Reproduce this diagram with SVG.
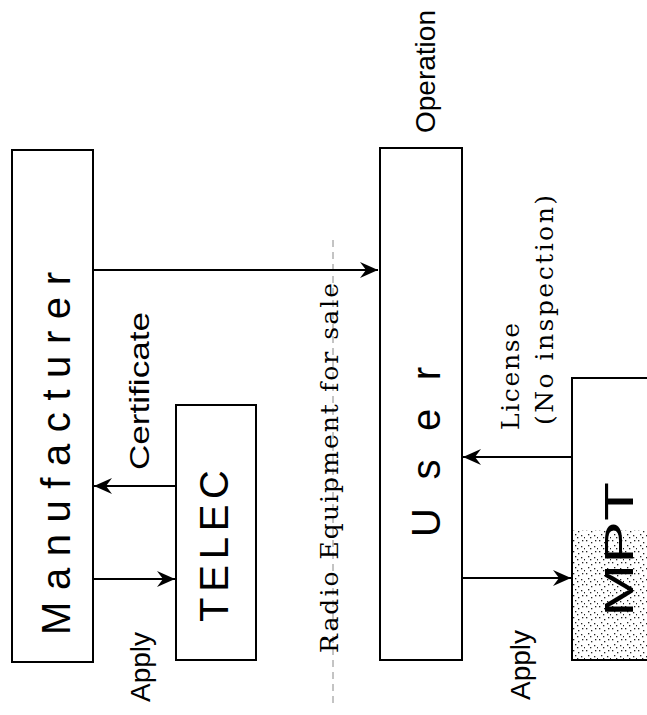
<svg xmlns="http://www.w3.org/2000/svg" width="647" height="715" viewBox="0 0 647 715">
<style>
.box{fill:#fff;stroke:#000;stroke-width:2}
.big{font-family:"Liberation Sans",Arial,sans-serif;font-size:40px;fill:#000}
.lbl{font-family:"Liberation Sans",Arial,sans-serif;font-size:28px;fill:#000}
.ser{font-family:"DejaVu Serif","Liberation Serif",serif;font-size:25px;fill:#000}
.ln{fill:none;stroke:#000;stroke-width:2}
.dash{fill:none;stroke:#888;stroke-width:1;stroke-dasharray:7 5}
</style>
<defs>
<marker id="ah" markerWidth="20" markerHeight="20" viewBox="-20 -10 20 20" refX="0" refY="0" orient="auto" markerUnits="userSpaceOnUse">
<path d="M0,0 L-18,-8 L-12,0 L-18,8 Z" fill="#000"/>
</marker>
<pattern id="dots" width="23" height="19" patternUnits="userSpaceOnUse">
<rect width="23" height="19" fill="#fff"/>
<rect x="3" y="2" width="1.5" height="1.5" fill="#333"/>
<rect x="14" y="7" width="1.5" height="1.5" fill="#333"/>
<rect x="8" y="13" width="1.5" height="1.5" fill="#333"/>
<rect x="19" y="16" width="1.5" height="1.5" fill="#333"/>
<rect x="17" y="2" width="1.2" height="1.2" fill="#555"/>
</pattern>
<pattern id="dense" width="13" height="11" patternUnits="userSpaceOnUse">
<rect width="13" height="11" fill="#fff"/>
<rect x="1" y="1" width="1.3" height="1.3" fill="#222"/>
<rect x="6" y="3" width="1.3" height="1.3" fill="#222"/>
<rect x="10" y="1" width="1.3" height="1.3" fill="#222"/>
<rect x="3" y="6" width="1.3" height="1.3" fill="#222"/>
<rect x="9" y="7" width="1.3" height="1.3" fill="#222"/>
<rect x="5" y="9" width="1.3" height="1.3" fill="#222"/>
<rect x="12" y="9" width="1.3" height="1.3" fill="#222"/>
</pattern>
</defs>

<line class="dash" x1="333" y1="240" x2="333" y2="705"/>

<g id="manufacturer">
<rect class="box" x="12" y="150" width="81" height="512"/>
<text class="big" font-size="38" transform="translate(70,635) rotate(-90)" textLength="363" lengthAdjust="spacing">Manufacturer</text>
</g>

<g id="telec">
<rect class="box" x="176" y="405" width="80" height="255"/>
<text class="big" transform="translate(228,622) rotate(-90)" textLength="152" lengthAdjust="spacing">TELEC</text>
</g>

<g id="user">
<rect class="box" x="380" y="148" width="82" height="512"/>
<text class="big" transform="translate(440,537) rotate(-90)" textLength="170" lengthAdjust="spacing">User</text>
</g>

<g id="mpt">
<rect class="box" x="572" y="378" width="80" height="282" fill="url(#dots)"/>
<rect x="573" y="530" width="78" height="129" fill="url(#dense)"/>
<rect x="572" y="378" width="80" height="282" fill="none" stroke="#000" stroke-width="2"/>
<text class="big" transform="translate(633,617) rotate(-90)" textLength="135" lengthAdjust="spacingAndGlyphs">MPT</text>
</g>

<g id="connectors">
<path class="ln" d="M93,270 H378" marker-end="url(#ah)"/>
<path class="ln" d="M176,486 H94" marker-end="url(#ah)"/>
<path class="ln" d="M93,579 H175" marker-end="url(#ah)"/>
<path class="ln" d="M572,457 H463" marker-end="url(#ah)"/>
<path class="ln" d="M462,578 H571" marker-end="url(#ah)"/>
</g>

<g id="labels">
<text class="lbl" transform="translate(435,133) rotate(-90)">Operation</text>
<text class="lbl" font-size="29" transform="translate(149,470) rotate(-90)" textLength="158" lengthAdjust="spacingAndGlyphs">Certificate</text>
<text class="lbl" transform="translate(150,702) rotate(-90)">Apply</text>
<text class="lbl" transform="translate(530,700) rotate(-90)">Apply</text>
<text class="ser" transform="translate(338,653) rotate(-90)" textLength="370" lengthAdjust="spacing">Radio Equipment for sale</text>
<text class="ser" transform="translate(519,430) rotate(-90)" textLength="107" lengthAdjust="spacing">License</text>
<text class="ser" transform="translate(553,425) rotate(-90)" textLength="230" lengthAdjust="spacing">(No inspection)</text>
</g>
</svg>
